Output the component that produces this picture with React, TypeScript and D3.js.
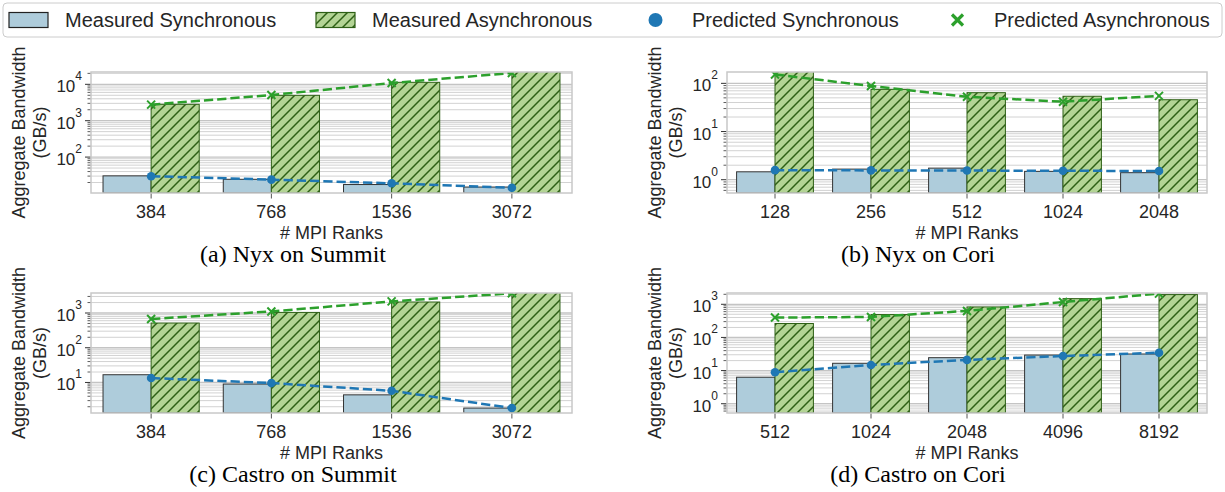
import React from "react";
import * as d3 from "d3";

// Nyx on Summit
const nyxSummitRanks = ["384", "768", "1536", "3072"];
const nyxSummitMeasuredSync = [30.5, 24.5, 17.6, 15];
const nyxSummitMeasuredAsync = [2820, 4980, 11350, 25000];
const nyxSummitPredictedSync = [29.8, 24, 19, 14.3];
const nyxSummitPredictedAsync = [2760, 5070, 10860, 20500];

// Nyx on Cori
const nyxCoriRanks = ["128", "256", "512", "1024", "2048"];
const nyxCoriMeasuredSync = [1.46, 1.66, 1.74, 1.49, 1.4];
const nyxCoriMeasuredAsync = [180, 75, 64, 54, 45.7];
const nyxCoriPredictedSync = [1.58, 1.56, 1.55, 1.53, 1.52];
const nyxCoriPredictedAsync = [153, 88, 52.6, 41.6, 55];

// Castro on Summit
const castroSummitRanks = ["384", "768", "1536", "3072"];
const castroSummitMeasuredSync = [16.7, 9.0, 4.4, 1.83];
const castroSummitMeasuredAsync = [515, 1040, 2075, 4000];
const castroSummitPredictedSync = [13.4, 9.6, 5.75, 1.83];
const castroSummitPredictedAsync = [672, 1110, 2160, 3700];

// Castro on Cori
const castroCoriRanks = ["512", "1024", "2048", "4096", "8192"];
const castroCoriMeasuredSync = [6.3, 16.6, 24.5, 29.4, 31.6];
const castroCoriMeasuredAsync = [263, 490, 830, 1480, 1960];
const castroCoriPredictedSync = [8.9, 14.8, 21, 27.5, 34.6];
const castroCoriPredictedAsync = [398, 415, 630, 1170, 2100];

const legendLabels = [
  "Measured Synchronous",
  "Measured Asynchronous",
  "Predicted Synchronous",
  "Predicted Asynchronous",
];

const SANS = "'Liberation Sans', Arial, Helvetica, sans-serif";
const SERIF = "'Liberation Serif', 'Times New Roman', serif";
const BLUE = "#1f77b4";
const GREEN = "#2ca02c";
const SYNC_FILL = "#aeccdb";
const ASYNC_FILL = "#b3d495";
const HATCH = "#2e6016";
const TEXT = "#262626";

const panels = [
  {
    id: "a", ranks: nyxSummitRanks, ms: nyxSummitMeasuredSync, ma: nyxSummitMeasuredAsync,
    ps: nyxSummitPredictedSync, pa: nyxSummitPredictedAsync, yDomain: [10.3, 21800],
    caption: "(a) Nyx on Summit", box: [91, 572, 72, 193], capX: 293,
  },
  {
    id: "b", ranks: nyxCoriRanks, ms: nyxCoriMeasuredSync, ma: nyxCoriMeasuredAsync,
    ps: nyxCoriPredictedSync, pa: nyxCoriPredictedAsync, yDomain: [0.53, 172],
    caption: "(b) Nyx on Cori", box: [727, 1207, 72, 193], capX: 918,
  },
  {
    id: "c", ranks: castroSummitRanks, ms: castroSummitMeasuredSync, ma: castroSummitMeasuredAsync,
    ps: castroSummitPredictedSync, pa: castroSummitPredictedAsync, yDomain: [1.32, 3770],
    caption: "(c) Castro on Summit", box: [91, 572, 293, 413], capX: 293,
  },
  {
    id: "d", ranks: castroCoriRanks, ms: castroCoriMeasuredSync, ma: castroCoriMeasuredAsync,
    ps: castroCoriPredictedSync, pa: castroCoriPredictedAsync, yDomain: [0.525, 2190],
    caption: "(d) Castro on Cori", box: [727, 1207, 293, 413], capX: 918,
  },
];

function XMark({ x, y, s, w }: { x: number; y: number; s: number; w: number }) {
  return (
    <path
      d={`M${x - s},${y - s}L${x + s},${y + s}M${x - s},${y + s}L${x + s},${y - s}`}
      stroke={GREEN}
      strokeWidth={w}
      fill="none"
    />
  );
}

function Panel({ p }: { p: any }) {
  const [l, r, t, b] = p.box;
  const x = d3.scaleBand<string>().domain(p.ranks).range([l, r]).paddingInner(0.2).paddingOuter(0.1);
  const hue = d3.scaleBand<string>().domain(["sync", "async"]).range([0, x.bandwidth()]);
  const y = d3.scaleLog().domain(p.yDomain).range([b, t]);
  const ticks = y.ticks();
  const isMajor = (v: number) => Math.abs(Math.log10(v) - Math.round(Math.log10(v))) < 1e-6;
  const cx = (k: string) => (x(k) as number) + x.bandwidth() / 2;
  const line = d3.line<number>().x((_, i) => cx(p.ranks[i])).y((v) => y(v));
  const clip = `clip-${p.id}`;

  return (
    <g>
      <defs>
        <clipPath id={clip}>
          <rect x={l} y={t} width={r - l} height={b - t} />
        </clipPath>
      </defs>
      {/* grid, major and minor */}
      {ticks.map((v) => (
        <line key={"g" + v} x1={l} x2={r} y1={y(v)} y2={y(v)}
          stroke={isMajor(v) ? "#c4c4c4" : "#d2d2d2"} strokeWidth={isMajor(v) ? 1.3 : 1} />
      ))}
      <g clipPath={`url(#${clip})`}>
        {p.ranks.map((k: string, i: number) => (
          <g key={k}>
            <rect x={(x(k) as number) + (hue("sync") as number)} y={y(p.ms[i])}
              width={hue.bandwidth()} height={b - y(p.ms[i])}
              fill={SYNC_FILL} stroke="#333" strokeWidth={1} />
            <rect x={(x(k) as number) + (hue("async") as number)} y={y(p.ma[i])}
              width={hue.bandwidth()} height={b - y(p.ma[i])} fill={ASYNC_FILL} />
            <rect x={(x(k) as number) + (hue("async") as number)} y={y(p.ma[i])}
              width={hue.bandwidth()} height={b - y(p.ma[i])}
              fill="url(#hatch)" stroke={HATCH} strokeWidth={1} />
          </g>
        ))}
        <path d={line(p.ps) as string} fill="none" stroke={BLUE} strokeWidth={2.5} strokeDasharray="9.25 4" />
        <path d={line(p.pa) as string} fill="none" stroke={GREEN} strokeWidth={2.5} strokeDasharray="9.25 4" />
        {p.ranks.map((k: string, i: number) => (
          <g key={"m" + k}>
            <circle cx={cx(k)} cy={y(p.ps[i])} r={4.3} fill={BLUE} />
            <XMark x={cx(k)} y={y(p.pa[i])} s={4} w={2} />
          </g>
        ))}
      </g>
      {/* frame */}
      <rect x={l} y={t} width={r - l} height={b - t} fill="none" stroke="#c8c8c8" strokeWidth={1.5} />
      {/* y ticks */}
      {ticks.map((v) => (
        <line key={"t" + v} x1={l - (isMajor(v) ? 6 : 3.5)} x2={l - 0.75} y1={y(v)} y2={y(v)}
          stroke="#333" strokeWidth={isMajor(v) ? 1 : 0.8} />
      ))}
      {ticks.filter(isMajor).map((v) => (
        <text key={"l" + v} x={l - 9} y={y(v) + 8} textAnchor="end" fontFamily={SANS}
          fontSize={17} fill={TEXT}>
          10<tspan dy={-12} fontSize={12}>{Math.round(Math.log10(v))}</tspan>
        </text>
      ))}
      {/* x ticks */}
      {p.ranks.map((k: string) => (
        <g key={"x" + k}>
          <line x1={cx(k)} x2={cx(k)} y1={b + 0.75} y2={b + 5.5} stroke="#555" strokeWidth={1} />
          <text x={cx(k)} y={b + 25} textAnchor="middle" fontFamily={SANS} fontSize={18} fill={TEXT}>
            {k}
          </text>
        </g>
      ))}
      <text x={(l + r) / 2} y={b + 46} textAnchor="middle" fontFamily={SANS} fontSize={18} fill={TEXT}>
        # MPI Ranks
      </text>
      <text transform={`translate(${l - 72},${(t + b) / 2}) rotate(-90)`} textAnchor="middle"
        dominantBaseline="central" fontFamily={SANS} fontSize={18} fill={TEXT}>
        Aggregate Bandwidth
      </text>
      <text transform={`translate(${l - 51},${(t + b) / 2}) rotate(-90)`} textAnchor="middle"
        dominantBaseline="central" fontFamily={SANS} fontSize={18} fill={TEXT}>
        (GB/s)
      </text>
      <text x={p.capX} y={b + 69} textAnchor="middle" fontFamily={SERIF} fontSize={24} fill="#000">
        {p.caption}
      </text>
    </g>
  );
}

function Legend() {
  const starts = [9, 316, 636, 938];
  const hw = 39;
  const cy = 20;
  return (
    <g>
      <rect x={3} y={3} width={1219} height={34} rx={4} fill="#fff" stroke="#cccccc" strokeWidth={1} />
      <rect x={starts[0]} y={cy - 7.5} width={hw} height={15} fill={SYNC_FILL} stroke="#222" strokeWidth={1.2} />
      <rect x={starts[1]} y={cy - 7.5} width={hw} height={15} fill={ASYNC_FILL} />
      <rect x={starts[1]} y={cy - 7.5} width={hw} height={15} fill="url(#hatch)" stroke={HATCH} strokeWidth={1.2} />
      <circle cx={starts[2] + hw / 2} cy={cy} r={7} fill={BLUE} />
      <XMark x={starts[3] + hw / 2} y={cy} s={5.5} w={3.2} />
      {legendLabels.map((lab, i) => (
        <text key={lab} x={starts[i] + hw + 17} y={cy} dominantBaseline="central"
          fontFamily={SANS} fontSize={20} fill={TEXT}>
          {lab}
        </text>
      ))}
    </g>
  );
}

export default function App() {
  return (
    <div style={{ position: "absolute", left: 0, top: 0 }}>
      <svg width={1225} height={492} style={{ display: "block", background: "#fff" }}>
        <defs>
          <pattern id="hatch" patternUnits="userSpaceOnUse" width={10} height={10}>
            <path d="M-1,1L1,-1M0,10L10,0M9,11L11,9" stroke={HATCH} strokeWidth={1.5} />
          </pattern>
        </defs>
        <Legend />
        {panels.map((p) => (
          <Panel key={p.id} p={p} />
        ))}
      </svg>
    </div>
  );
}
